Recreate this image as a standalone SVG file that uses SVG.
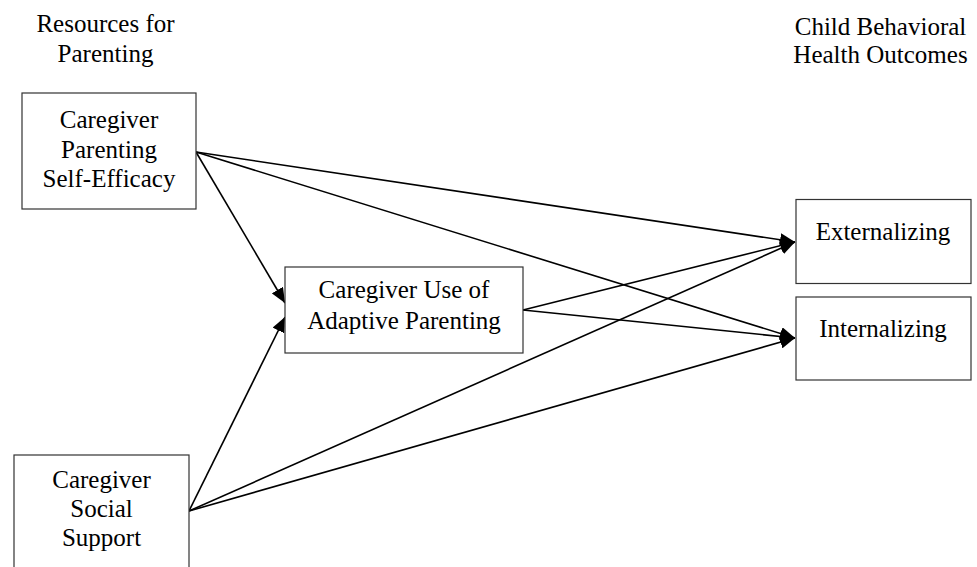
<svg xmlns="http://www.w3.org/2000/svg" width="977" height="567" viewBox="0 0 977 567">
<style>
text{font-family:"Liberation Serif","Times New Roman",serif;font-size:25px;fill:#000;text-anchor:middle}
.box{fill:#fff;stroke:#333;stroke-width:1.2}
.edge{stroke:#000;stroke-width:1.6;fill:none;marker-end:url(#ah)}
</style>
<defs>
<marker id="ah" markerUnits="userSpaceOnUse" markerWidth="15" markerHeight="13" viewBox="0 0 15 13" refX="15" refY="6.5" orient="auto">
<path d="M0,0 L15,6.5 L0,13 z" fill="#000"/>
</marker>
</defs>
<rect width="977" height="567" fill="#fff"/>
<g id="header-left"><text x="105.5" y="32">Resources for</text><text x="105.5" y="62">Parenting</text></g>
<g id="header-right"><text x="880.5" y="35">Child Behavioral</text><text x="880.5" y="63">Health Outcomes</text></g>
<g id="connectors">
<line class="edge" x1="196" y1="152" x2="795" y2="242"/>
<line class="edge" x1="196" y1="152" x2="795" y2="338"/>
<line class="edge" x1="196" y1="152" x2="285" y2="303"/>
<line class="edge" x1="189" y1="511" x2="285" y2="317"/>
<line class="edge" x1="189" y1="511" x2="795" y2="242"/>
<line class="edge" x1="189" y1="511" x2="795" y2="338"/>
<line class="edge" x1="523" y1="310" x2="795" y2="242"/>
<line class="edge" x1="523" y1="310" x2="795" y2="338"/>
</g>
<g id="self-efficacy"><rect class="box" x="22" y="93" width="174" height="116"/><text x="109" y="128">Caregiver</text><text x="109" y="158">Parenting</text><text x="109" y="187">Self-Efficacy</text></g>
<g id="social-support"><rect class="box" x="14" y="455" width="175" height="125"/><text x="101.5" y="488">Caregiver</text><text x="101.5" y="517">Social</text><text x="101.5" y="546">Support</text></g>
<g id="adaptive-parenting"><rect class="box" x="285" y="267" width="238" height="86"/><text x="404" y="298">Caregiver Use of</text><text x="404" y="329">Adaptive Parenting</text></g>
<g id="externalizing"><rect class="box" x="796" y="199.5" width="175" height="84"/><text x="883" y="240">Externalizing</text></g>
<g id="internalizing"><rect class="box" x="796" y="297" width="175" height="83"/><text x="883" y="337">Internalizing</text></g>
</svg>
